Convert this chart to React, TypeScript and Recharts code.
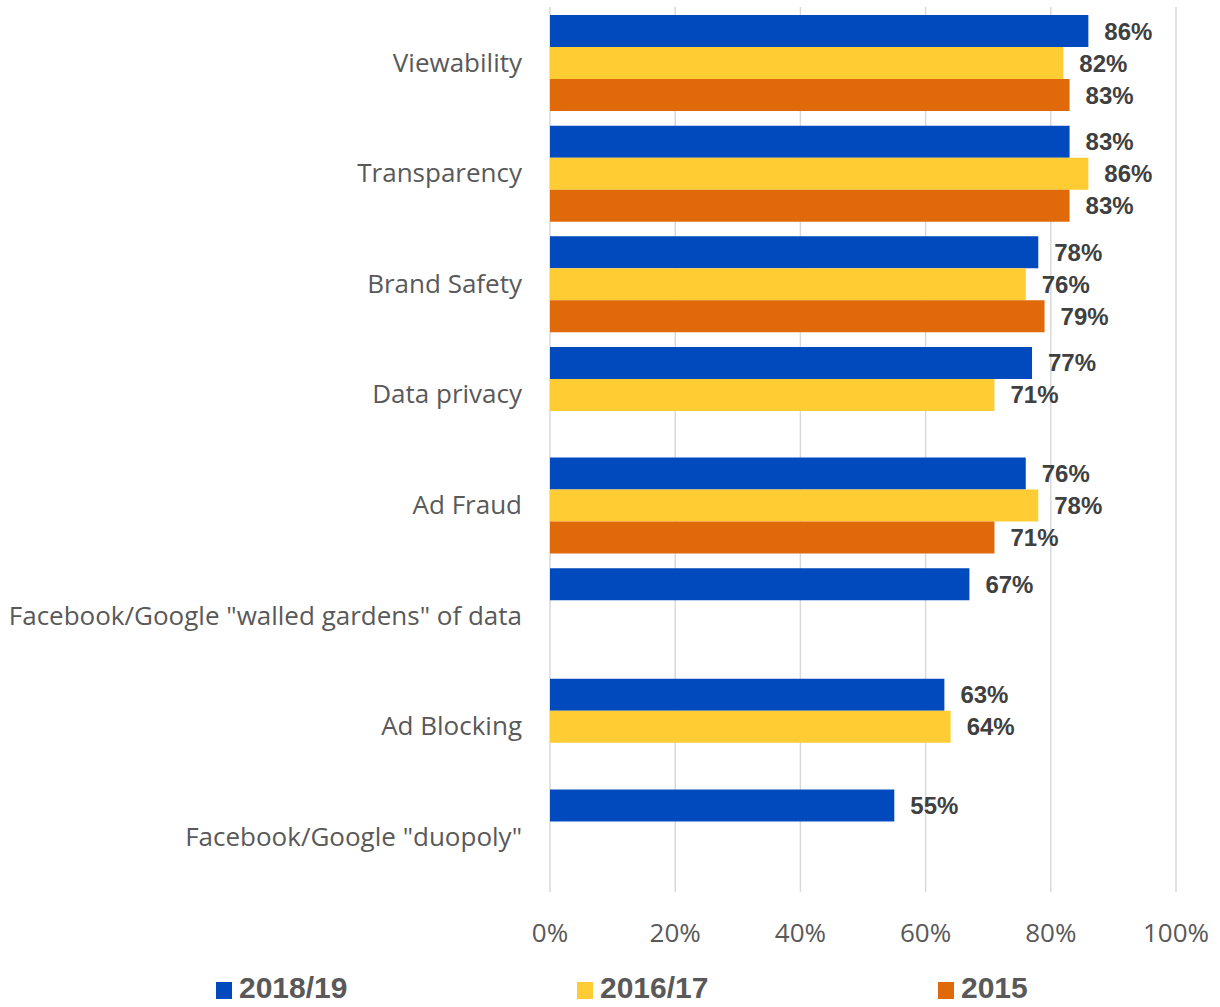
import React from 'react';
import {
  BarChart,
  Bar,
  XAxis,
  YAxis,
  CartesianGrid,
  Legend,
  LabelList,
} from 'recharts';

const categories = [
  'Viewability',
  'Transparency',
  'Brand Safety',
  'Data privacy',
  'Ad Fraud',
  'Facebook/Google "walled gardens" of data',
  'Ad Blocking',
  'Facebook/Google "duopoly"',
];

const values2018 = [86, 83, 78, 77, 76, 67, 63, 55];
const values2016 = [82, 86, 76, 71, 78, null, 64, null];
const values2015 = [83, 83, 79, null, 71, null, null, null];

const xTicks = [0, 20, 40, 60, 80, 100];

const series = [
  { key: 'y2018', name: '2018/19', color: '#004ABD' },
  { key: 'y2016', name: '2016/17', color: '#FFCC33' },
  { key: 'y2015', name: '2015', color: '#E0690A' },
];

const data = categories.map((name, i) => ({
  name,
  y2018: values2018[i],
  y2016: values2016[i],
  y2015: values2015[i],
}));

const pct = (v: number | null | undefined) => (v == null ? '' : `${v}%`);

function LegendRow() {
  return (
    <div style={{ position: 'relative', width: 1220, height: 45 }}>
      {series.map((s, i) => (
        <div
          key={s.key}
          style={{
            position: 'absolute',
            left: 216 + i * 361,
            top: 9,
            display: 'flex',
            alignItems: 'center',
            fontFamily: '"Liberation Sans", Arial, sans-serif',
            fontWeight: 700,
            fontSize: 30,
            color: '#595959',
            lineHeight: '34px',
          }}
        >
          <span
            style={{
              display: 'inline-block',
              width: 16,
              height: 17,
              background: s.color,
              marginRight: 7,
              marginTop: 4,
            }}
          />
          {s.name}
        </div>
      ))}
    </div>
  );
}

export default function App() {
  return (
    <div style={{ position: 'absolute', left: 0, top: 0, width: 1220, height: 1007, background: '#fff' }}>
      <BarChart
        width={1220}
        height={1007}
        data={data}
        layout="vertical"
        margin={{ top: 7, right: 44, left: 0, bottom: 0 }}
        barGap={0}
        barCategoryGap={8}
      >
        <CartesianGrid horizontal={false} stroke="#d9d9d9" strokeWidth={1.5} />
        <XAxis
          type="number"
          domain={[0, 100]}
          ticks={xTicks}
          tickFormatter={(v) => `${v}%`}
          axisLine={false}
          tickLine={false}
          height={70}
          tickMargin={26}
          tick={{ fill: '#595959', fontSize: 26, fontFamily: '"Open Sans", sans-serif' }}
        />
        <YAxis
          type="category"
          dataKey="name"
          width={550}
          axisLine={false}
          tickLine={false}
          tickMargin={22}
          interval={0}
          tick={{ fill: '#595959', fontSize: 26, fontFamily: '"Open Sans", sans-serif' }}
        />
        <Legend verticalAlign="bottom" height={45} content={() => <LegendRow />} />
        {series.map((s) => (
          <Bar key={s.key} dataKey={s.key} name={s.name} fill={s.color} isAnimationActive={false}>
            <LabelList
              dataKey={s.key}
              position="right"
              offset={16}
              formatter={pct}
              fill="#404040"
              style={{
                fontFamily: '"Liberation Sans", Arial, sans-serif',
                fontWeight: 700,
                fontSize: 24,
              }}
            />
          </Bar>
        ))}
      </BarChart>
    </div>
  );
}
